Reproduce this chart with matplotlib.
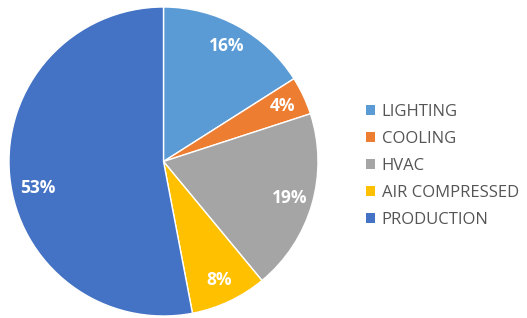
import matplotlib
matplotlib.use("Agg")
import matplotlib.pyplot as plt
from matplotlib.patches import Patch
import numpy as np

categories = ["LIGHTING", "COOLING", "HVAC", "AIR COMPRESSED", "PRODUCTION"]
values = [16, 4, 19, 8, 53]
colors = ["#5B9BD5", "#ED7D31", "#A5A5A5", "#FFC000", "#4472C4"]

W, H = 527, 318
fig = plt.figure(figsize=(W / 100, H / 100), dpi=100)
fig.patch.set_facecolor("white")

cx, cy, r = 163.5, 161.5, 154.5
ax = fig.add_axes([(cx - r) / W, (H - cy - r) / H, 2 * r / W, 2 * r / H])
wedges, texts, autotexts = ax.pie(
    values, colors=colors, startangle=90, counterclock=False,
    autopct=lambda p: f"{p:.0f}%", pctdistance=0.85,
    wedgeprops=dict(edgecolor="white", linewidth=1),
    textprops=dict(color="white", fontsize=12.5, fontweight="bold", family="Open Sans"),
)
# nudge the large-slice label slightly lower, like the reference
ang = np.deg2rad(192)
autotexts[4].set_position((0.83 * np.cos(ang), 0.83 * np.sin(ang)))
ax.set_xlim(-1, 1)
ax.set_ylim(-1, 1)
ax.axis("off")

handles = [Patch(facecolor=c, edgecolor="none") for c in colors]
leg = fig.legend(handles, categories, loc="center left",
                 bbox_to_anchor=(366 / W, 1 - 165.5 / H), frameon=False,
                 prop=dict(family="Open Sans", size=12),
                 handlelength=0.55, handleheight=0.55, handletextpad=0.4,
                 labelspacing=0.66, borderpad=0, borderaxespad=0)
for t in leg.get_texts():
    t.set_color("#555555")

fig.savefig("out.png", dpi=100)
